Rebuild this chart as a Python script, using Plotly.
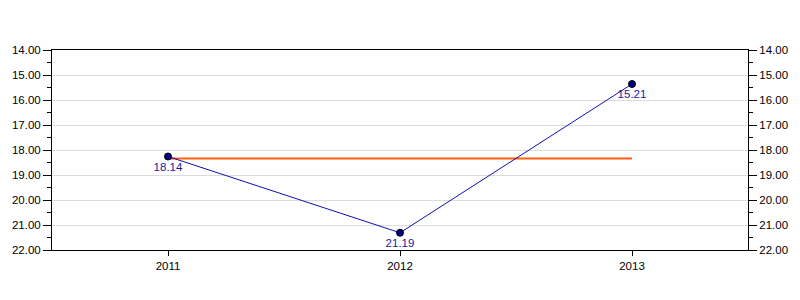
import plotly.graph_objects as go

years = ["2011", "2012", "2013"]
values = [18.26, 21.31, 15.36]
labels = ["18.14", "21.19", "15.21"]
average = [18.34, 18.34, 18.34]
y_ticks = [14, 15, 16, 17, 18, 19, 20, 21, 22]

fig = go.Figure()
fig.add_trace(go.Scatter(
    x=years, y=average, mode="lines",
    line=dict(color="#FF5F0F", width=2), hoverinfo="skip", showlegend=False))
fig.add_trace(go.Scatter(
    x=years, y=values, mode="lines+markers+text",
    text=labels, textposition="bottom center",
    textfont=dict(family="Liberation Sans, Arial", size=11.5, color="#1a1a99"),
    line=dict(color="#1010B0", width=1),
    marker=dict(color="#000080", size=7, line=dict(color="#000000", width=1)),
    showlegend=False))
fig.add_trace(go.Scatter(x=years, y=values, yaxis="y2", mode="markers",
                         marker=dict(opacity=0), hoverinfo="skip", showlegend=False))

yax = dict(
    range=[22, 14], tickvals=y_ticks, tickformat=".2f",
    showgrid=True, gridcolor="#dcdcdc", gridwidth=1,
    ticks="outside", ticklen=8, tickcolor="#000000",
    minor=dict(dtick=0.5, tick0=14, ticks="outside", ticklen=4, tickcolor="#000000", showgrid=False),
    showline=True, linecolor="#000000", linewidth=1,
    zeroline=False, fixedrange=True,
    tickfont=dict(family="Liberation Sans, Arial", size=11.5, color="#000000"),
)

fig.update_layout(
    width=800, height=300,
    margin=dict(l=50, r=50, t=50, b=50),
    paper_bgcolor="#ffffff", plot_bgcolor="#ffffff",
    xaxis=dict(range=[-0.5, 2.5], type="category", showgrid=False,
               ticks="outside", ticklen=5, tickcolor="#000000",
               showline=True, linecolor="#000000", linewidth=1, mirror=True,
               tickfont=dict(family="Liberation Sans, Arial", size=11.5, color="#000000")),
    yaxis=dict(**yax, side="left"),
    yaxis2=dict(**yax, side="right", overlaying="y"),
)
fig.update_yaxes(selector=dict(overlaying="y"), showgrid=False)

fig.write_html("out.html")
